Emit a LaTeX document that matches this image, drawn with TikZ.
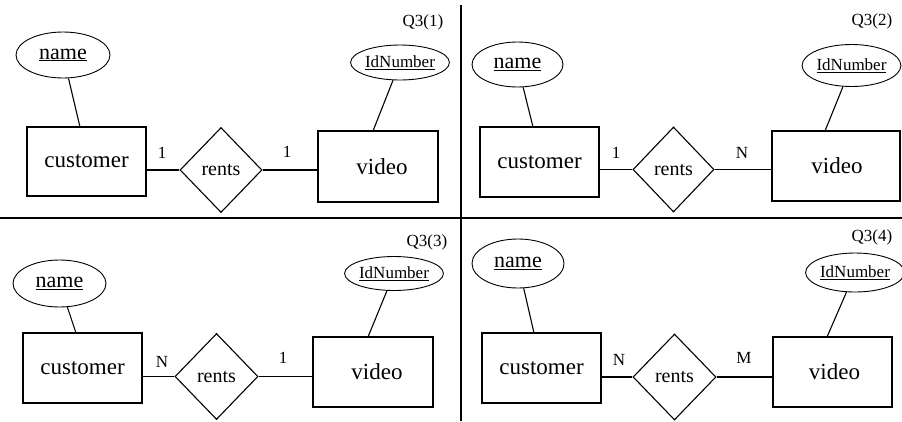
\documentclass[tikz,border=0pt]{standalone}
\usepackage{fontspec}
\setmainfont{Liberation Serif}
\usetikzlibrary{shapes.geometric}
\tikzset{
  ent/.style={draw, rectangle, inner sep=0pt, line width=1.1pt, font=\fontsize{23}{25}\selectfont},
  rel/.style={draw, diamond, inner sep=0pt, line width=1.1pt, font=\fontsize{20}{22}\selectfont},
  attrname/.style={draw, ellipse, inner sep=0pt, line width=0.9pt, font=\fontsize{22}{24}\selectfont},
  attrid/.style={draw, ellipse, inner sep=0pt, line width=0.9pt, font=\fontsize{17}{19}\selectfont},
  card/.style={inner sep=0pt, font=\fontsize{17}{19}\selectfont},
  qlab/.style={inner sep=0pt, font=\fontsize{17}{19}\selectfont},
  conn/.style={line width=1.1pt},
  divider/.style={line width=1.4pt}
}
\begin{document}
\begin{tikzpicture}[x=1pt,y=-1pt]
\useasboundingbox (0,0) rectangle (902,421);
% dividers
\draw[divider] (461,5) -- (461,421);
\draw[divider] (0,218) -- (902,218);

% ---------- Panel 1 ----------
\node[qlab] (q1) at (423,22) {Q3(1)};
\node[attrname, minimum width=94pt, minimum height=46pt] (n1) at (63,55) {\underline{name}};
\node[ent, minimum width=119pt, minimum height=69pt] (c1) at (86.5,161.5) {customer};
\node[rel, minimum width=82pt, minimum height=85pt] (r1) at (221,170) {rents};
\node[ent, minimum width=120pt, minimum height=71pt] (v1) at (378,166.5) {\hspace{8pt}video};
\node[attrid, minimum width=94pt, minimum height=35pt] (i1) at (400,62.5) {\underline{IdNumber}};
\coordinate (a1) at (80,127);
\coordinate (b1) at (373,131);
\draw[conn] (n1) -- (a1);
\draw[conn] (i1) -- (b1);
\draw[conn] (r1.west) -- (r1.west -| c1.east);
\draw[conn] (r1.east) -- (r1.east -| v1.west);
\node[card] (l1a) at (162,153) {1};
\node[card] (l1b) at (287,152) {1};

% ---------- Panel 2 ----------
\node[qlab] (q2) at (872,21) {Q3(2)};
\node[attrname, minimum width=91pt, minimum height=45pt] (n2) at (517.5,64.5) {\underline{name}};
\node[ent, minimum width=119pt, minimum height=70pt] (c2) at (539.5,162) {customer};
\node[rel, minimum width=81pt, minimum height=85pt] (r2) at (673.5,169.5) {rents};
\node[ent, minimum width=128pt, minimum height=70pt] (v2) at (836,166) {\hspace{2pt}video};
\node[attrid, minimum width=97pt, minimum height=42pt] (i2) at (851.5,65.5) {\underline{IdNumber}};
\coordinate (a2) at (533,127);
\coordinate (b2) at (825,131);
\draw[conn] (n2) -- (a2);
\draw[conn] (i2) -- (b2);
\draw[conn] (r2.west) -- (r2.west -| c2.east);
\draw[conn] (r2.east) -- (r2.east -| v2.west);
\node[card] (l2a) at (616,153) {1};
\node[card] (l2b) at (742,153) {N};

% ---------- Panel 3 ----------
\node[qlab] (q3) at (427,242) {Q3(3)};
\node[attrname, minimum width=93pt, minimum height=47pt] (n3) at (59.5,283.5) {\underline{name}};
\node[ent, minimum width=119pt, minimum height=70pt] (c3) at (82.5,368) {customer};
\node[rel, minimum width=83pt, minimum height=86pt] (r3) at (216.5,376.5) {rents};
\node[ent, minimum width=120pt, minimum height=70pt] (v3) at (373,372) {\hspace{8pt}video};
\node[attrid, minimum width=96pt, minimum height=34pt] (i3) at (394,273.5) {\underline{IdNumber}};
\coordinate (a3) at (76,333);
\coordinate (b3) at (368,337);
\draw[conn] (n3) -- (a3);
\draw[conn] (i3) -- (b3);
\draw[conn] (r3.west) -- (r3.west -| c3.east);
\draw[conn] (r3.east) -- (r3.east -| v3.west);
\node[card] (l3a) at (162,362) {N};
\node[card] (l3b) at (283,358) {1};

% ---------- Panel 4 ----------
\node[qlab] (q4) at (872,237) {Q3(4)};
\node[attrname, minimum width=92pt, minimum height=49pt] (n4) at (518,263.5) {\underline{name}};
\node[ent, minimum width=119pt, minimum height=70pt] (c4) at (541.5,368) {customer};
\node[rel, minimum width=83pt, minimum height=86pt] (r4) at (674.5,377) {rents};
\node[ent, minimum width=119pt, minimum height=70pt] (v4) at (832.5,372) {\hspace{4pt}video};
\node[attrid, minimum width=98pt, minimum height=39pt] (i4) at (855,272.5) {\underline{IdNumber}};
\coordinate (a4) at (534,333);
\coordinate (b4) at (827,337);
\draw[conn] (n4) -- (a4);
\draw[conn] (i4) -- (b4);
\draw[conn] (r4.west) -- (r4.west -| c4.east);
\draw[conn] (r4.east) -- (r4.east -| v4.west);
\node[card] (l4a) at (619,360) {N};
\node[card] (l4b) at (744,358) {M};
\end{tikzpicture}
\end{document}
